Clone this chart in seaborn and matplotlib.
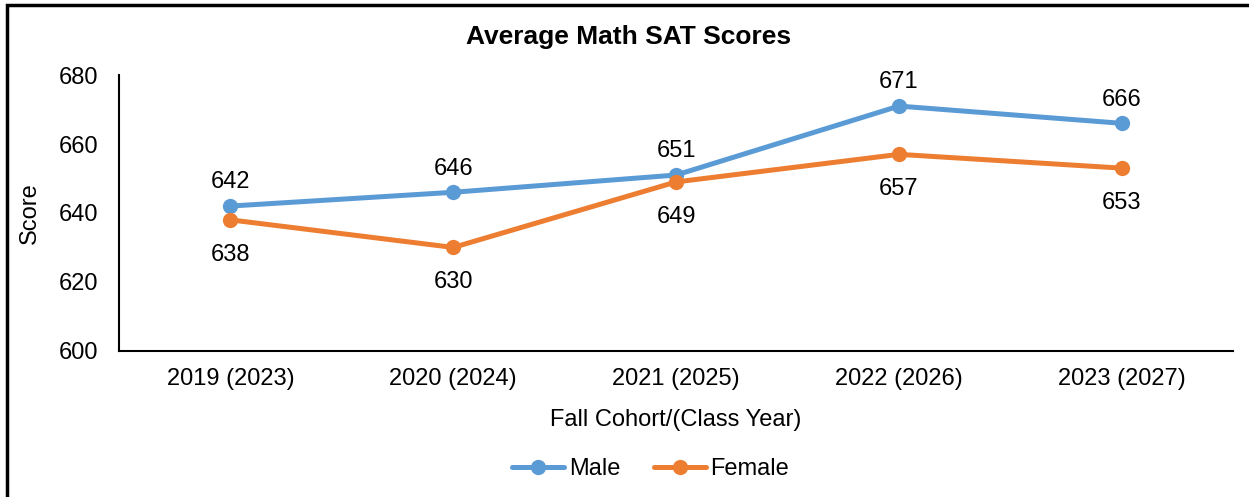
import seaborn as sns
import pandas as pd
import matplotlib.pyplot as plt
from matplotlib.patches import Rectangle

# chart values
cohorts = ["2019 (2023)", "2020 (2024)", "2021 (2025)", "2022 (2026)", "2023 (2027)"]
male = [642, 646, 651, 671, 666]
female = [638, 630, 649, 657, 653]
series = ["Male", "Female"]
colors = {"Male": "#5B9BD5", "Female": "#ED7D31"}

df = pd.DataFrame({
    "Cohort": cohorts * 2,
    "Score": male + female,
    "Gender": ["Male"] * len(male) + ["Female"] * len(female),
})

sns.set_style("white")
plt.rcParams["font.family"] = ["Liberation Sans", "DejaVu Sans"]
plt.rcParams.update({"text.color": "black", "axes.labelcolor": "black",
                     "xtick.color": "black", "ytick.color": "black"})
fs = 17

fig = plt.figure(figsize=(12.49, 4.97), dpi=100)
ax = fig.add_axes([0.0953, 0.294, 0.892, 0.555])

sns.lineplot(data=df, x="Cohort", y="Score", hue="Gender", hue_order=series,
             palette=colors, marker="o", markersize=11, markeredgewidth=0,
             linewidth=3.6, ax=ax, sort=False)

# data labels: male above, female below
for i, v in enumerate(male):
    ax.annotate(str(v), (i, v), xytext=(0, 17), textcoords="offset points",
                ha="center", va="center", fontsize=fs)
for i, v in enumerate(female):
    ax.annotate(str(v), (i, v), xytext=(0, -25), textcoords="offset points",
                ha="center", va="center", fontsize=fs)

ax.set_xlim(-0.5, len(cohorts) - 0.5)
ax.set_ylim(600, 680)
ax.set_yticks(range(600, 681, 20))
ax.tick_params(axis="both", labelsize=fs, length=0)
ax.tick_params(axis="x", pad=12)
ax.tick_params(axis="y", pad=15)
for side in ["top", "right"]:
    ax.spines[side].set_visible(False)
for side in ["left", "bottom"]:
    ax.spines[side].set_color("black")
    ax.spines[side].set_linewidth(1.5)
ax.grid(False)

ax.set_xlabel("Fall Cohort/(Class Year)", fontsize=fs, labelpad=14)
ax.set_ylabel("Score", fontsize=fs)
ax.yaxis.set_label_coords(-0.07, 0.5)
fig.text(0.503, 0.925, "Average Math SAT Scores", ha="center", va="center",
         fontsize=19, fontweight="bold")

handles, labels = ax.get_legend_handles_labels()
ax.legend_.remove()
fig.legend(handles, labels, loc="center", bbox_to_anchor=(0.521, 0.056), ncol=2,
           frameon=False, fontsize=fs, handlelength=2.2, handletextpad=0.2,
           columnspacing=1.4)

# outer chart border
fig.patches.append(Rectangle((0.0056, -0.05), 1.1, 1.04, transform=fig.transFigure,
                             fill=False, edgecolor="black", linewidth=2.5))

fig.savefig("out.png", dpi=100)
